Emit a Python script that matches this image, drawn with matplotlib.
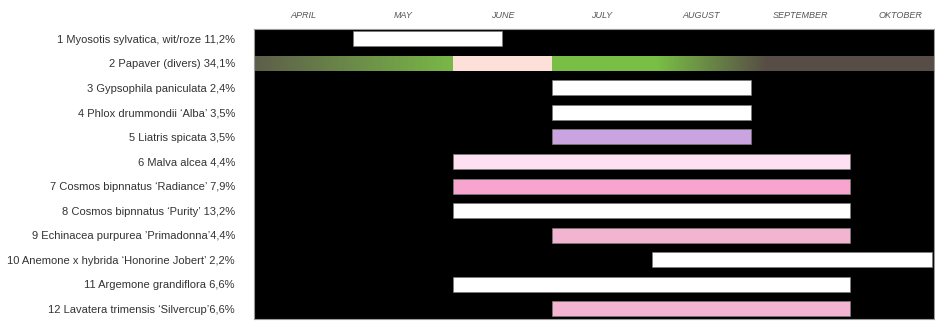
import numpy as np
import matplotlib
matplotlib.use("Agg")
import matplotlib.pyplot as plt
from matplotlib.colors import LinearSegmentedColormap, to_rgb

# Flowering calendar: months are measured from the start of April (0 = 1 April)
months = ["APRIL", "MAY", "JUNE", "JULY", "AUGUST", "SEPTEMBER", "OKTOBER"]

plants = [
    "1 Myosotis sylvatica, wit/roze 11,2%",
    "2 Papaver (divers) 34,1%",
    "3 Gypsophila paniculata 2,4%",
    "4 Phlox drummondii \u2018Alba\u2019 3,5%",
    "5 Liatris spicata 3,5%",
    "6 Malva alcea 4,4%",
    "7 Cosmos bipnnatus \u2018Radiance\u2019 7,9%",
    "8 Cosmos bipnnatus \u2018Purity\u2019 13,2%",
    "9 Echinacea purpurea \u2019Primadonna\u20194,4%",
    "10 Anemone x hybrida \u2018Honorine Jobert\u2019 2,2%",
    "11 Argemone grandiflora 6,6%",
    "12 Lavatera trimensis \u2018Silvercup\u20196,6%",
]

# bloom start / end (in months after 1 April) and flower colour; None = gradient row
bloom_start = [1.0, None, 3.0, 3.0, 3.0, 2.0, 2.0, 2.0, 3.0, 4.0, 2.0, 3.0]
bloom_end = [2.5, None, 5.0, 5.0, 5.0, 6.0, 6.0, 6.0, 6.0, 6.82, 6.0, 6.0]
bloom_color = ["#ffffff", None, "#ffffff", "#ffffff", "#c9a4e1", "#fde1f2",
               "#f7a5ce", "#ffffff", "#f2b4d1", "#ffffff", "#ffffff", "#f2b4d1"]

# Papaver row: foliage colour stops along the season plus the flowering block
papaver_stops = [0.0, 1.97, 3.0, 4.05, 5.15, 6.84]
papaver_stop_colors = ["#5d5e4a", "#79b747", "#79be45", "#79be45", "#574d46", "#574d46"]
papaver_bloom = (2.0, 3.0, "#fde1d9")

season_end = 6.84
bar_h = 0.61

fig = plt.figure(figsize=(9.35, 3.27), dpi=100)
ax = fig.add_axes([0.2713, 0.0235, 0.7276, 0.8868])
ax.set_facecolor("black")

n = len(plants)
ax.set_xlim(0, season_end)
ax.set_ylim(n - 1 + 0.42, -0.38)

for i, (s, e, c) in enumerate(zip(bloom_start, bloom_end, bloom_color)):
    if s is None:
        continue
    ax.barh(i, e - s, left=s, height=bar_h, color=c,
            edgecolor="#7a7a7a", linewidth=0.5, zorder=2)

# gradient foliage band for Papaver
row = plants.index("2 Papaver (divers) 34,1%")
x = np.linspace(0, season_end, 800)
rgbs = np.array([to_rgb(c) for c in papaver_stop_colors])
img = np.stack([np.interp(x, papaver_stops, rgbs[:, k]) for k in range(3)], axis=-1)
ax.imshow(img[np.newaxis, :, :], extent=(0, season_end, row + bar_h / 2, row - bar_h / 2),
          aspect="auto", interpolation="bilinear", zorder=2)
ps, pe, pc = papaver_bloom
ax.barh(row, pe - ps, left=ps, height=bar_h, color=pc, linewidth=0, zorder=3)
ax.set_xlim(0, season_end)
ax.set_ylim(n - 1 + 0.42, -0.38)

ax.set_yticks(range(n))
ax.set_yticklabels(plants, fontsize=8, color="#333333", family="Liberation Sans")
ax.tick_params(axis="y", length=0, pad=13.5)
ax.set_xticks([])

for k, m in enumerate(months):
    ax.text(k + 0.5, 1.049, m, transform=ax.get_xaxis_transform(),
            ha="center", va="center", fontsize=6.5, style="italic",
            color="#555555", family="Liberation Sans")

for sp in ax.spines.values():
    sp.set_color("#9a9a9a")
    sp.set_linewidth(0.8)

fig.savefig("out.png", dpi=100, facecolor="white")
